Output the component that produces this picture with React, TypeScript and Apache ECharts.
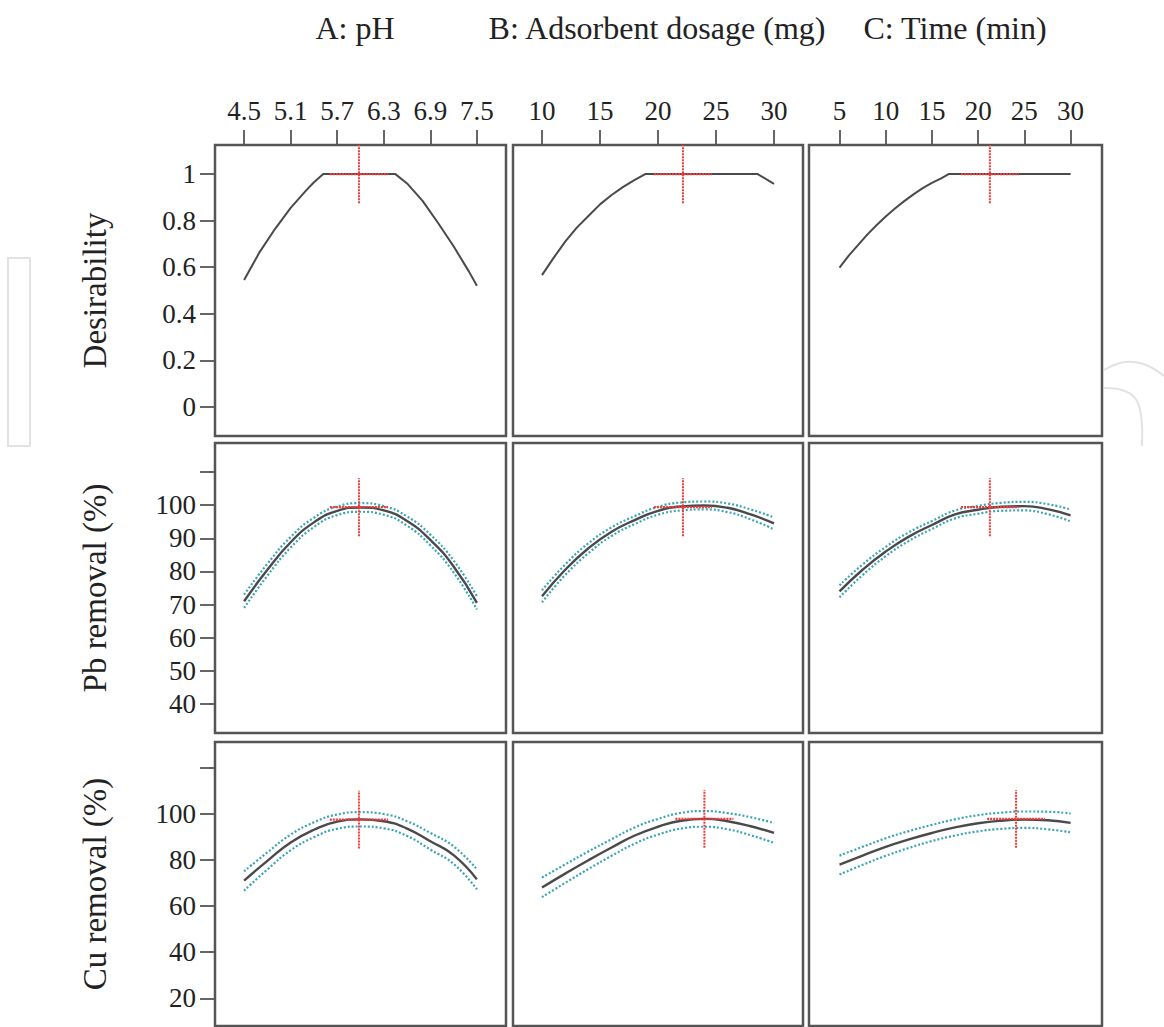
import React, { useEffect, useRef } from "react";
import * as echarts from "echarts";

const factorTitles = ["A: pH", "B: Adsorbent dosage (mg)", "C: Time (min)"];
const responseNames = ["Desirability", "Pb removal (%)", "Cu removal (%)"];

// top axis ticks
const phTicks = [4.5, 5.1, 5.7, 6.3, 6.9, 7.5];
const dosageTicks = [10, 15, 20, 25, 30];
const timeTicks = [5, 10, 15, 20, 25, 30];

// left axis ticks / labels
const desTicks = [0, 0.2, 0.4, 0.6, 0.8, 1];
const desLabels = [0, 0.2, 0.4, 0.6, 0.8, 1];
const pbTicks = [40, 50, 60, 70, 80, 90, 100, 110];
const pbLabels = [40, 50, 60, 70, 80, 90, 100];
const cuTicks = [20, 40, 60, 80, 100, 120];
const cuLabels = [20, 40, 60, 80, 100];

// Desirability curves
const desPhX = [4.5, 4.7, 4.9, 5.1, 5.3, 5.4, 5.52, 6.45, 6.6, 6.8, 7.0, 7.2, 7.4, 7.5];
const desPhY = [0.545, 0.665, 0.765, 0.855, 0.93, 0.965, 1, 1, 0.96, 0.885, 0.79, 0.69, 0.58, 0.52];
const desDoseX = [10, 11, 12, 13, 14, 15, 16, 17, 18, 18.9, 28.6, 30];
const desDoseY = [0.566, 0.64, 0.71, 0.77, 0.82, 0.87, 0.91, 0.945, 0.975, 1, 1, 0.958];
const desTimeX = [5, 6, 7, 8, 9, 10, 11, 12, 13, 14, 15, 16, 16.8, 30];
const desTimeY = [0.598, 0.65, 0.695, 0.74, 0.78, 0.818, 0.852, 0.884, 0.913, 0.94, 0.962, 0.982, 1, 1];

// x positions for response curves
const phX = [4.5, 4.8, 5.1, 5.4, 5.7, 6.0, 6.3, 6.6, 6.9, 7.2, 7.5];
const doseX = [10, 12, 14, 16, 18, 20, 22, 24, 26, 28, 30];
const timeX = [5, 7.5, 10, 12.5, 15, 17.5, 20, 22.5, 25, 27.5, 30];

// Pb removal (%)
const pbPh = [71.0, 80.5, 88.8, 94.8, 98.3, 99.3, 98.4, 95.2, 89.5, 81.5, 70.5];
const pbPhHi = [73.0, 82.3, 90.4, 96.2, 99.6, 100.6, 99.7, 96.6, 91.1, 83.3, 72.5];
const pbPhLo = [69.0, 78.7, 87.2, 93.4, 97.0, 98.0, 97.1, 93.8, 87.9, 79.7, 68.5];
const pbDose = [72.5, 80.5, 87.0, 92.0, 95.5, 98.3, 99.6, 99.9, 99.2, 97.2, 94.5];
const pbDoseHi = [74.3, 82.1, 88.5, 93.3, 96.7, 99.5, 100.8, 101.1, 100.5, 98.7, 96.3];
const pbDoseLo = [70.7, 78.9, 85.5, 90.7, 94.3, 97.1, 98.4, 98.7, 97.9, 95.7, 92.7];
const pbTime = [74.0, 80.5, 86.0, 90.5, 94.0, 97.2, 98.6, 99.5, 99.7, 98.8, 96.9];
const pbTimeHi = [75.8, 82.1, 87.4, 91.8, 95.2, 98.4, 99.8, 100.7, 101.0, 100.3, 98.7];
const pbTimeLo = [72.2, 78.9, 84.6, 89.2, 92.8, 96.0, 97.4, 98.3, 98.4, 97.3, 95.1];

// Cu removal (%)
const cuPh = [71.0, 79.5, 87.5, 93.0, 96.5, 97.5, 96.7, 93.5, 88.0, 82.0, 71.5];
const cuPhHi = [75.0, 83.2, 90.9, 96.2, 99.6, 100.6, 99.8, 96.7, 91.6, 85.8, 75.8];
const cuPhLo = [66.6, 75.8, 84.1, 89.8, 93.4, 94.4, 93.6, 90.3, 84.4, 78.2, 67.2];
const cuDose = [68.0, 74.0, 79.8, 85.3, 90.5, 94.3, 96.9, 97.7, 96.7, 94.5, 91.6];
const cuDoseHi = [72.3, 78.0, 83.6, 88.9, 94.0, 97.7, 100.3, 101.1, 100.2, 98.4, 95.9];
const cuDoseLo = [63.8, 70.0, 76.0, 81.7, 87.0, 90.9, 93.5, 94.3, 93.2, 90.6, 87.3];
const cuTime = [77.9, 81.8, 85.6, 88.8, 91.6, 94.0, 95.8, 96.9, 97.4, 97.1, 96.0];
const cuTimeHi = [81.8, 85.6, 89.3, 92.4, 95.1, 97.5, 99.3, 100.4, 100.9, 100.8, 100.0];
const cuTimeLo = [73.6, 77.8, 81.7, 85.1, 88.1, 90.5, 92.3, 93.4, 93.8, 93.2, 91.9];

// optimum (red cross-hair) per row: factor settings and predicted response
const optFactorsRow = [
  [5.98, 22.15, 21.27],
  [5.98, 22.15, 21.27],
  [5.98, 24.0, 24.1],
];
const optResponseRow = [
  [1, 1, 1],
  [99.4, 99.4, 99.4],
  [97.4, 97.7, 97.7],
];

// layout
const colLeft = [215, 513, 809];
const colWidth = [291, 290, 293];
const rowTop = [145, 443, 742];
const rowHeight = [291, 290, 284];
const xRanges = [
  [4.125, 7.875],
  [7.5, 32.5],
  [1.7, 33.4],
];
const yRanges = [
  [-0.125, 1.125],
  [31.25, 118.75],
  [8, 131],
];
const titleCenters = [355, 657, 955];

const SERIF = "'Liberation Serif', 'Times New Roman', serif";
const INK = "#222";
const CURVE = "#4a4a4a";
const TEAL = "#3aa5b3";
const RED = "#ee3b3b";
const MARK = "#e2e2e2";

const zip = (xs: number[], ys: number[]) => xs.map((x, i) => [x, ys[i]]);

function buildOption() {
  const xTicks = [phTicks, dosageTicks, timeTicks];
  const yTicks = [desTicks, pbTicks, cuTicks];
  const yLabels = [desLabels, pbLabels, cuLabels];
  const grids: any[] = [];
  const xAxes: any[] = [];
  const yAxes: any[] = [];
  const series: any[] = [];

  const rowsData = [
    null,
    [
      [phX, pbPh, pbPhHi, pbPhLo],
      [doseX, pbDose, pbDoseHi, pbDoseLo],
      [timeX, pbTime, pbTimeHi, pbTimeLo],
    ],
    [
      [phX, cuPh, cuPhHi, cuPhLo],
      [doseX, cuDose, cuDoseHi, cuDoseLo],
      [timeX, cuTime, cuTimeHi, cuTimeLo],
    ],
  ];
  const desData = [
    [desPhX, desPhY],
    [desDoseX, desDoseY],
    [desTimeX, desTimeY],
  ];

  for (let r = 0; r < 3; r++) {
    for (let c = 0; c < 3; c++) {
      const gi = r * 3 + c;
      grids.push({
        left: colLeft[c],
        top: rowTop[r],
        width: colWidth[c],
        height: rowHeight[r],
        show: true,
        z: 1,
        backgroundColor: "#fff",
        borderColor: "#555",
        borderWidth: 2.5,
      });
      xAxes.push({
        type: "value",
        gridIndex: gi,
        min: xRanges[c][0],
        max: xRanges[c][1],
        position: "top",
        axisLine: { show: false, onZero: false },
        splitLine: { show: false },
        axisTick: {
          show: r === 0,
          customValues: xTicks[c],
          length: 15,
          lineStyle: { color: "#333", width: 1.5 },
        },
        axisLabel: {
          show: r === 0,
          customValues: xTicks[c],
          formatter: (v: number) => (c === 0 ? v.toFixed(1) : String(v)),
          fontFamily: SERIF,
          fontSize: 27,
          color: INK,
          margin: 21,
        },
      });
      yAxes.push({
        type: "value",
        gridIndex: gi,
        min: yRanges[r][0],
        max: yRanges[r][1],
        position: "left",
        axisLine: { show: false, onZero: false },
        splitLine: { show: false },
        axisTick: {
          show: c === 0,
          customValues: yTicks[r],
          length: 15,
          lineStyle: { color: "#333", width: 1.5 },
        },
        axisLabel: {
          show: c === 0,
          customValues: yLabels[r],
          fontFamily: SERIF,
          fontSize: 27,
          color: INK,
          margin: 19,
        },
      });

      const base = {
        type: "line",
        xAxisIndex: gi,
        yAxisIndex: gi,
        showSymbol: false,
        symbol: "none",
        silent: true,
      };
      if (r === 0) {
        series.push({
          ...base,
          data: zip(desData[c][0], desData[c][1]),
          lineStyle: { color: CURVE, width: 2 },
          z: 3,
        });
      } else {
        const [xs, mid, hi, lo] = (rowsData[r] as number[][][])[c];
        series.push({
          ...base,
          smooth: true,
          data: zip(xs, hi),
          lineStyle: { color: TEAL, width: 2.2, type: [2, 2] },
          z: 2,
        });
        series.push({
          ...base,
          smooth: true,
          data: zip(xs, lo),
          lineStyle: { color: TEAL, width: 2.2, type: [2, 2] },
          z: 2,
        });
        series.push({
          ...base,
          smooth: true,
          data: zip(xs, mid),
          lineStyle: { color: CURVE, width: 2.4 },
          z: 3,
        });
      }
      // red cross-hair at the optimum
      const ox = optFactorsRow[r][c];
      const oy = optResponseRow[r][c];
      const xt = xTicks[c];
      const yt = yTicks[r];
      const hx = (xt[xt.length - 1] - xt[0]) / 8;
      const hy = (yt[yt.length - 1] - yt[0]) / 8;
      series.push({
        ...base,
        data: [
          [ox - hx, oy],
          [ox + hx, oy],
        ],
        lineStyle: { color: RED, width: 2.2, type: [2, 1] },
        z: 4,
      });
      series.push({
        ...base,
        data: [
          [ox, oy - hy],
          [ox, oy + hy],
        ],
        lineStyle: { color: RED, width: 2, type: [2, 1] },
        z: 4,
      });
    }
  }

  const graphics: any[] = [];
  // faint publisher watermark outlines behind the panels
  graphics.push({
    type: "rect",
    z: -5,
    shape: { x: 8, y: 258, width: 22, height: 188 },
    style: { fill: "none", stroke: MARK, lineWidth: 2 },
  });
  graphics.push({
    type: "polyline",
    z: -5,
    shape: {
      points: [
        [1104, 370],
        [1125, 362],
        [1146, 365],
        [1164, 376],
      ],
      smooth: 0.4,
    },
    style: { fill: "none", stroke: MARK, lineWidth: 2 },
  });
  graphics.push({
    type: "polyline",
    z: -5,
    shape: {
      points: [
        [1104, 388],
        [1122, 390],
        [1135, 398],
        [1141, 415],
        [1142, 446],
      ],
      smooth: 0.4,
    },
    style: { fill: "none", stroke: MARK, lineWidth: 2 },
  });

  factorTitles.forEach((t, i) => {
    graphics.push({
      type: "text",
      x: titleCenters[i],
      y: 28,
      z: 10,
      style: {
        text: t,
        font: `32px ${SERIF}`,
        fill: INK,
        textAlign: "center",
        textVerticalAlign: "middle",
      },
    });
  });
  responseNames.forEach((t, i) => {
    graphics.push({
      type: "text",
      x: 95,
      y: rowTop[i] + rowHeight[i] / 2,
      rotation: Math.PI / 2,
      z: 10,
      style: {
        text: t,
        font: `33px ${SERIF}`,
        fill: INK,
        textAlign: "center",
        textVerticalAlign: "middle",
      },
    });
  });

  return {
    animation: false,
    backgroundColor: "#fff",
    grid: grids,
    xAxis: xAxes,
    yAxis: yAxes,
    series,
    graphic: graphics,
  };
}

export default function App() {
  const ref = useRef<HTMLDivElement>(null);
  useEffect(() => {
    const chart = echarts.init(ref.current!, null, { renderer: "svg" });
    chart.setOption(buildOption());
    return () => chart.dispose();
  }, []);
  return (
    <div
      ref={ref}
      style={{ position: "absolute", left: 0, top: 0, width: 1164, height: 1027, background: "#fff" }}
    />
  );
}
